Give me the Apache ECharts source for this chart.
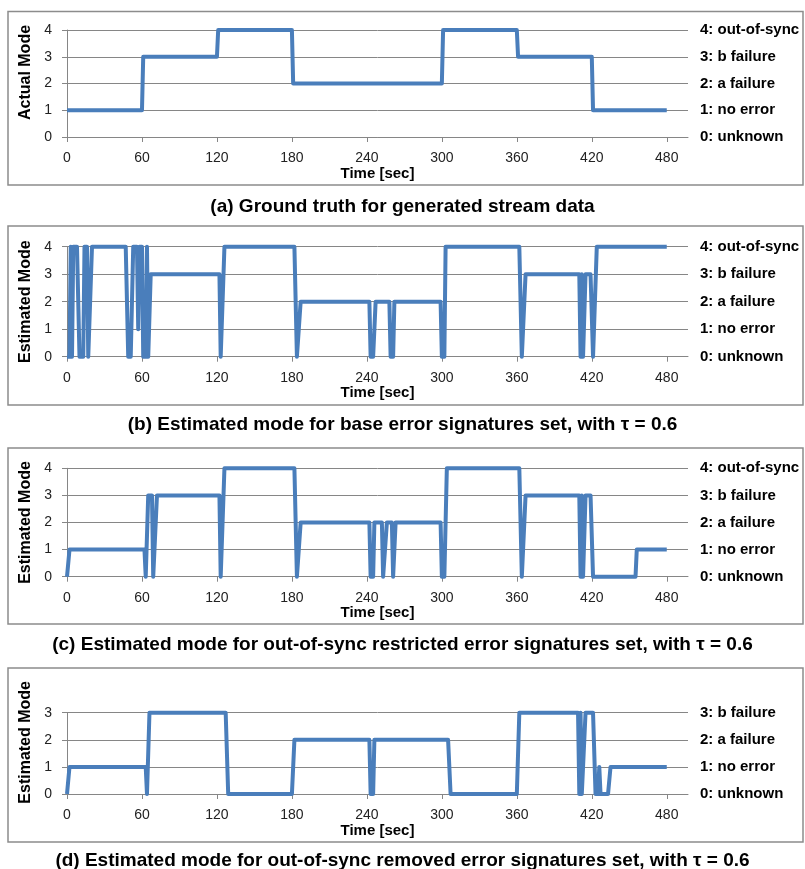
<!DOCTYPE html>
<html>
<head>
<meta charset="utf-8">
<title>Mode estimation</title>
<script src="https://cdn.jsdelivr.net/npm/echarts@6/dist/echarts.min.js"></script>
<style>
  html, body { margin: 0; padding: 0; background: #fff; }
  #chart { width: 805px; height: 869px; }
</style>
</head>
<body>
<div id="chart"></div>
<script>
// tick labels
var timeTicks = [0, 60, 120, 180, 240, 300, 360, 420, 480];
var modeNames = ['0: unknown', '1: no error', '2: a failure', '3: b failure', '4: out-of-sync'];

// (a) ground truth
var timeA = [0, 60, 61, 120, 121, 180, 181, 300, 301, 360, 361, 420, 421, 480];
var modeA = [1, 1, 3, 3, 4, 4, 2, 2, 4, 4, 3, 3, 1, 1];

// (b) base error signatures
var timeB = [0, 2, 3, 4, 5, 8, 10, 13, 14, 16, 17, 18, 20, 47, 49, 51, 53, 56, 57, 58,
  60, 61, 63, 64, 65, 66, 67, 122, 123, 124, 126, 182, 184, 185, 187, 242, 243, 245, 247, 258,
  259, 261, 262, 299, 300, 302, 303, 362, 364, 365, 367, 410, 411, 412, 413, 415, 419, 421, 422, 424, 480];
var modeB = [0, 0, 4, 0, 4, 4, 0, 0, 4, 4, 0, 0, 4, 4, 0, 0, 4, 4, 1, 4,
  4, 0, 0, 4, 0, 0, 3, 3, 0, 0, 4, 4, 0, 0, 2, 2, 0, 0, 2, 2,
  0, 0, 2, 2, 0, 0, 4, 4, 0, 0, 3, 3, 0, 3, 0, 3, 3, 0, 0, 4, 4];

// (c) out-of-sync restricted
var timeC = [0, 2, 62, 63, 64, 65, 68, 69, 70, 72, 122, 123, 124, 126, 182, 184, 185, 187, 242, 243,
  245, 246, 252, 253, 254, 256, 260, 261, 262, 263, 299, 300, 302, 304, 362, 364, 365, 367, 410, 411,
  412, 413, 415, 419, 421, 455, 456, 480];
var modeC = [0, 1, 1, 0, 0, 3, 3, 0, 0, 3, 3, 0, 0, 4, 4, 0, 0, 2, 2, 0,
  0, 2, 2, 0, 0, 2, 2, 0, 0, 2, 2, 0, 0, 4, 4, 0, 0, 3, 3, 0,
  3, 0, 3, 3, 0, 0, 1, 1];

// (d) out-of-sync removed
var timeD = [0, 2, 63, 64, 65, 66, 127, 129, 180, 182, 242, 243, 245, 246, 305, 307, 360, 362, 409, 410,
  411, 412, 413, 415, 421, 423, 425, 426, 427, 433, 435, 480];
var modeD = [0, 1, 1, 0, 0, 3, 3, 0, 0, 2, 2, 0, 0, 2, 2, 0, 0, 3, 3, 0,
  3, 0, 0, 3, 3, 0, 0, 1, 0, 0, 1, 1];

var captions = [
  '(a) Ground truth for generated stream data',
  '(b) Estimated mode for base error signatures set, with \u03c4 = 0.6',
  '(c) Estimated mode for out-of-sync restricted error signatures set, with \u03c4 = 0.6',
  '(d) Estimated mode for out-of-sync removed error signatures set, with \u03c4 = 0.6'
];
var yNames = ['Actual Mode', 'Estimated Mode', 'Estimated Mode', 'Estimated Mode'];
var yMax = [4, 4, 4, 3];

var FONT = '"Liberation Sans", Arial, sans-serif';
var GRAY = '#868686';
var BLUE = '#4a7ebb';

function pairs(t, m) {
  return t.map(function (v, i) { return [v, m[i]]; });
}
var seriesData = [pairs(timeA, modeA), pairs(timeB, modeB), pairs(timeC, modeC), pairs(timeD, modeD)];

// panel layout: plot areas, frames, caption positions
var grids = [
  { left: 67, top: 30, width: 621, height: 107 },
  { left: 67, top: 246.7, width: 621, height: 110 },
  { left: 67, top: 468.3, width: 621, height: 108.4 },
  { left: 67, top: 712.7, width: 621, height: 81.3 }
];
var frames = [[8, 11.5, 795, 173.5], [8, 226, 795, 179], [8, 448, 795, 176], [8, 668, 795, 174]];
var captionTop = [192, 410, 630, 846];
var yNameShift = [22, 0, 0, 22];   // axis titles in (a) and (d) sit a bit above centre

var option = {
  animation: false,
  backgroundColor: '#fff',
  title: [],
  grid: [],
  xAxis: [],
  yAxis: [],
  series: [],
  graphic: []
};

for (var i = 0; i < 4; i++) {
  option.grid.push(grids[i]);
  option.title.push({
    text: captions[i],
    left: 'center',
    top: captionTop[i],
    textStyle: { fontFamily: FONT, fontSize: 19, fontWeight: 'bold', color: '#000' }
  });
  option.graphic.push({
    type: 'rect',
    shape: { x: frames[i][0], y: frames[i][1], width: frames[i][2], height: frames[i][3] },
    style: { fill: 'none', stroke: '#8c8c8c', lineWidth: 1.5 },
    z: -1
  });
  option.xAxis.push({
    gridIndex: i,
    type: 'value',
    min: 0,
    max: 497,
    name: 'Time [sec]',
    nameLocation: 'middle',
    nameGap: 28,
    nameTextStyle: { fontFamily: FONT, fontSize: 15, fontWeight: 'bold', color: '#000' },
    axisLine: { show: true, onZero: false, lineStyle: { color: GRAY, width: 1 } },
    axisTick: { show: true, length: 5, customValues: timeTicks, lineStyle: { color: GRAY } },
    axisLabel: { customValues: timeTicks, fontFamily: FONT, fontSize: 14, color: '#222', margin: 14 },
    splitLine: { show: false }
  });
  option.yAxis.push({
    gridIndex: i,
    type: 'value',
    min: 0,
    max: yMax[i],
    interval: 1,
    name: yNames[i],
    nameLocation: 'middle',
    nameRotate: 90,
    nameGap: 32,
    nameTextStyle: { fontFamily: FONT, fontSize: 16, fontWeight: 'bold', color: '#000', padding: [0, 0, 0, yNameShift[i]] },
    axisLine: { show: true, lineStyle: { color: GRAY, width: 1 } },
    axisTick: { show: true, length: 5, lineStyle: { color: GRAY } },
    axisLabel: { fontFamily: FONT, fontSize: 14, color: '#222', margin: 15 },
    splitLine: { show: true, lineStyle: { color: GRAY, width: 1 } }
  });
  option.yAxis.push({
    gridIndex: i,
    type: 'value',
    position: 'right',
    min: 0,
    max: yMax[i],
    interval: 1,
    axisLine: { show: false },
    axisTick: { show: false },
    splitLine: { show: false },
    axisLabel: {
      fontFamily: FONT, fontSize: 15, fontWeight: 'bold', color: '#000', margin: 12,
      formatter: function (v) { return modeNames[v]; }
    }
  });
  option.series.push({
    type: 'line',
    xAxisIndex: i,
    yAxisIndex: i * 2,
    data: seriesData[i],
    showSymbol: false,
    clip: false,
    lineStyle: { color: BLUE, width: 4, join: 'round' }
  });
}

var chart = echarts.init(document.getElementById('chart'), null, { renderer: 'canvas' });
chart.setOption(option);
</script>
</body>
</html>
